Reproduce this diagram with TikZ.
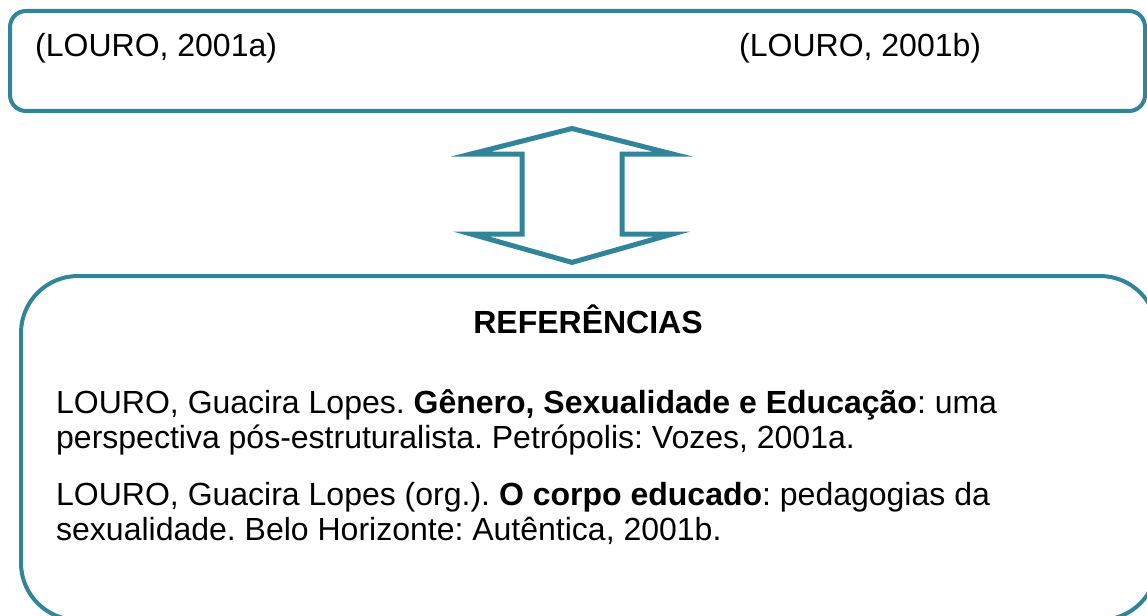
\documentclass[tikz,border=0pt]{standalone}
\usepackage{fontspec}
\setmainfont{Liberation Sans}
\definecolor{teal1}{RGB}{49,133,155}
\frenchspacing
\begin{document}
\begin{tikzpicture}[x=1pt,y=-1pt,
  frame/.style={draw=teal1, line width=4pt},
  txt/.style={font=\fontsize{32}{35}\selectfont, inner sep=0pt, anchor=base west},
  blockarrow/.style={draw=teal1, line width=5pt, miter limit=12, line join=miter}]
\useasboundingbox (0,0) rectangle (1147,615);
\clip (0,0) rectangle (1147,615);
% top box
\draw[frame, rounded corners=16pt] (10,11) rectangle (1145,111);
\node[txt] (ta) at (35,57) {(LOURO, 2001a)};
\node[txt] (tb) at (739,57) {(LOURO, 2001b)};
% double block arrow
\draw[blockarrow] (572,128.5) -- (672.5,154) -- (622,154) -- (622,234) -- (672.5,234)
  -- (572,262.4) -- (471,234) -- (522,234) -- (522,154) -- (471,154) -- cycle;
% bottom box
\draw[frame, rounded corners=57pt] (21,276) rectangle (1157,620);
\node[txt, anchor=base, font=\fontsize{32}{35}\selectfont\bfseries] (ref) at (588,333) {REFERÊNCIAS};
\node[txt] (p1a) at (56,413) {LOURO, Guacira Lopes. \textbf{Gênero, Sexualidade e Educação}: uma};
\node[txt] (p1b) at (56,448) {perspectiva pós-estruturalista. Petrópolis: Vozes, 2001a.};
\node[txt] (p2a) at (56,505) {LOURO, Guacira Lopes (org.). \textbf{O corpo educado}: pedagogias da};
\node[txt] (p2b) at (56,540) {sexualidade. Belo Horizonte: Autêntica, 2001b.};
\end{tikzpicture}
\end{document}
